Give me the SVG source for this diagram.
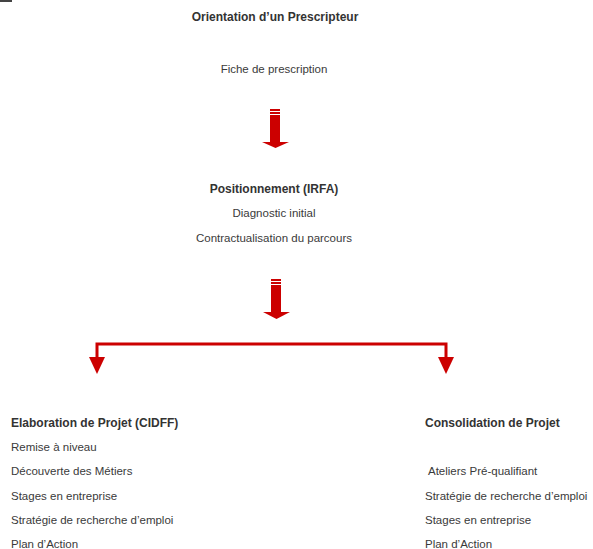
<svg xmlns="http://www.w3.org/2000/svg" width="593" height="549" viewBox="0 0 593 549">
<style>
text{font-family:"Liberation Sans",Arial,sans-serif;font-size:11.5px;fill:#3a3a3a}
.b{font-weight:bold;font-size:12px;fill:#333}
.c{text-anchor:middle}
.arr{fill:#cc0000}
.ln{stroke:#cc0000;stroke-width:3;fill:none}
</style>
<rect x="0" y="0" width="12" height="2" fill="#444"/>
<g id="prescripteur">
<text class="b c" x="275" y="21">Orientation d’un Prescripteur</text>
<text class="c" x="274" y="73">Fiche de prescription</text>
</g>
<g id="positionnement">
<text class="b c" x="274" y="193">Positionnement (IRFA)</text>
<text class="c" x="274" y="217">Diagnostic initial</text>
<text class="c" x="274" y="242">Contractualisation du parcours</text>
</g>
<g id="elaboration">
<text class="b" x="11" y="427">Elaboration de Projet (CIDFF)</text>
<text x="11" y="451">Remise à niveau</text>
<text x="11" y="475">Découverte des Métiers</text>
<text x="11" y="499.5">Stages en entreprise</text>
<text x="11" y="523.5">Stratégie de recherche d’emploi</text>
<text x="11" y="547.5">Plan d’Action</text>
</g>
<g id="consolidation">
<text class="b" x="425" y="427">Consolidation de Projet</text>
<text x="428" y="475">Ateliers Pré-qualifiant</text>
<text x="425" y="499.5">Stratégie de recherche d’emploi</text>
<text x="425" y="523.5">Stages en entreprise</text>
<text x="425" y="547.5">Plan d’Action</text>
</g>
<g id="connectors">
<g id="arrow1">
<rect class="arr" x="270" y="109" width="10" height="2"/>
<rect class="arr" x="270" y="112" width="10" height="2"/>
<rect class="arr" x="270" y="115" width="10" height="28"/>
<polygon class="arr" points="262,142 289,142 275.5,148"/>
</g>
<g id="arrow2">
<rect class="arr" x="271" y="279" width="10" height="2"/>
<rect class="arr" x="271" y="282" width="10" height="2"/>
<rect class="arr" x="271" y="285" width="10" height="28"/>
<polygon class="arr" points="263,312 290,312 276.5,319"/>
</g>
<g id="split">
<polyline class="ln" points="97,358 97,344 446,344 446,358"/>
<polygon class="arr" points="89,357 105,357 97,374"/>
<polygon class="arr" points="438,357 454,357 446,374"/>
</g>
</g>
</svg>
